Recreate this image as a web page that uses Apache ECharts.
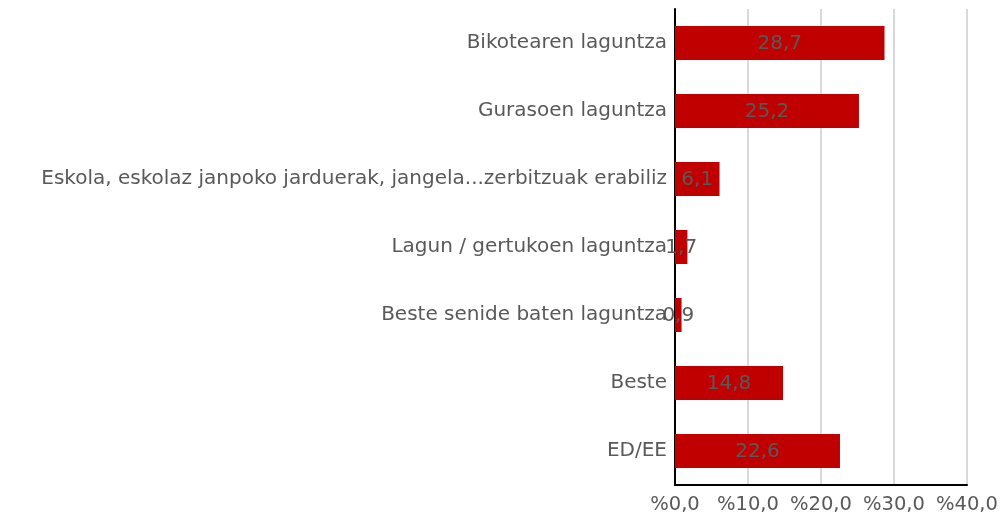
<!DOCTYPE html>
<html>
<head>
<meta charset="utf-8">
<script src="https://cdn.jsdelivr.net/npm/echarts@6/dist/echarts.min.js"></script>
<style>
  html, body { margin: 0; padding: 0; background: #fff; }
  #chart { width: 1002px; height: 515px; }
</style>
</head>
<body>
<div id="chart"></div>
<script>
const categories = [
  "Bikotearen laguntza",
  "Gurasoen laguntza",
  "Eskola, eskolaz janpoko jarduerak, jangela...zerbitzuak erabiliz",
  "Lagun / gertukoen laguntza",
  "Beste senide baten laguntza",
  "Beste",
  "ED/EE"
];
const values = [28.7, 25.2, 6.1, 1.7, 0.9, 14.8, 22.6];
const xTicks = [0, 10, 20, 30, 40];

const fmt = v => v.toFixed(1).replace(".", ",");
const grey = "#595959";
const font = "DejaVu Sans";

const chart = echarts.init(document.getElementById("chart"));
chart.setOption({
  animation: false,
  grid: { left: 675, right: 35, top: 9, bottom: 30, containLabel: false },
  xAxis: {
    type: "value",
    min: xTicks[0],
    max: xTicks[xTicks.length - 1],
    interval: 10,
    axisLine: { show: true, lineStyle: { color: "#000", width: 2 } },
    axisTick: { show: false },
    splitLine: { show: true, lineStyle: { color: "#d9d9d9", width: 2 } },
    axisLabel: {
      color: grey, fontSize: 19.5, fontFamily: font, margin: 10,
      formatter: v => "%" + fmt(v)
    }
  },
  yAxis: {
    type: "category",
    inverse: true,
    data: categories,
    axisLine: { show: true, lineStyle: { color: "#000", width: 2 } },
    axisTick: { show: false },
    axisLabel: { color: grey, fontSize: 20, fontFamily: font, margin: 8, padding: [2, 0, 0, 0] }
  },
  series: [{
    type: "bar",
    data: values,
    barWidth: "50%",
    itemStyle: { color: "#C00000" },
    label: {
      show: true,
      position: "inside",
      color: grey,
      fontSize: 20,
      fontFamily: font,
      offset: [0, 1],
      formatter: p => fmt(p.value)
    }
  }]
});
</script>
</body>
</html>
